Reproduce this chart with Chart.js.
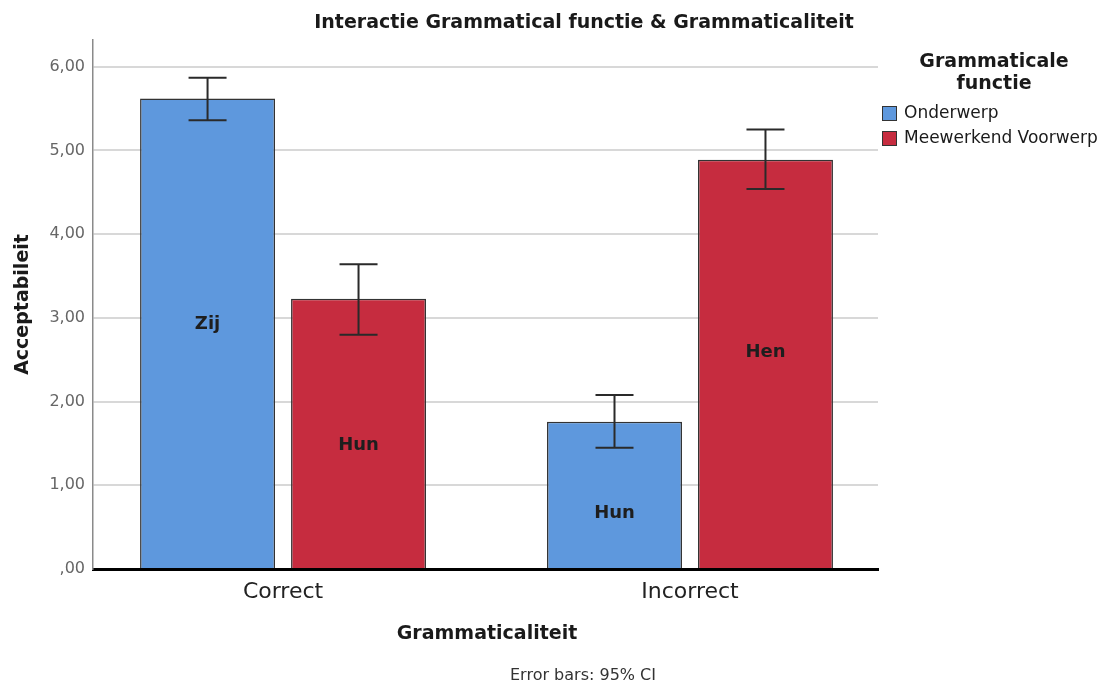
<!DOCTYPE html>
<html>
<head>
<meta charset="utf-8">
<script src="https://cdn.jsdelivr.net/npm/chart.js@4"></script>
<style>
    body { margin: 0; background: #fff; }
    #wrap { width: 1108px; height: 686px; position: relative; }
</style>
</head>
<body>
<div id="wrap"><canvas id="chart"></canvas></div>
<script>

const categories = ["Correct", "Incorrect"];
const seriesNames = ["Onderwerp", "Meewerkend Voorwerp"];

const onderwerp = [5.62, 1.76];
const onderwerpLow = [5.36, 1.45];
const onderwerpHigh = [5.87, 2.08];

const meewerkend = [3.23, 4.89];
const meewerkendLow = [2.80, 4.54];
const meewerkendHigh = [3.64, 5.25];

// words printed inside the bars, and the value height where they sit
const onderwerpWords = ["Zij", "Hun"];
const onderwerpWordAt = [2.92, 0.67];
const meewerkendWords = ["Hun", "Hen"];
const meewerkendWordAt = [1.48, 2.59];

const chartTitle = "Interactie Grammatical functie & Grammaticaliteit";
const legendTitle = ["Grammaticale", "functie"];
const yTitle = "Acceptabileit";
const xTitle = "Grammaticaliteit";
const footnote = "Error bars: 95% CI";

const FONT = "'DejaVu Sans', sans-serif";
const BLUE = "#5e98dd";
const RED = "#c62c3f";


function formatTick(v) {
    const s = v.toFixed(2).replace(".", ",");
    return s.startsWith("0,") ? s.slice(1) : s;
}


const extras = {

    id: "extras",

    afterDatasetsDraw(chart) {

        const ctx = chart.ctx;
        const y = chart.scales.y;
        const lows = [onderwerpLow, meewerkendLow];
        const highs = [onderwerpHigh, meewerkendHigh];
        const words = [onderwerpWords, meewerkendWords];
        const wordAt = [onderwerpWordAt, meewerkendWordAt];

        ctx.save();

        chart.data.datasets.forEach((ds, d) => {

            const meta = chart.getDatasetMeta(d);

            meta.data.forEach((bar, i) => {

                // label inside the bar
                ctx.fillStyle = "#1e1e1e";
                ctx.font = "bold 18px " + FONT;
                ctx.textAlign = "center";
                ctx.textBaseline = "middle";
                ctx.fillText(words[d][i], bar.x, y.getPixelForValue(wordAt[d][i]));

                // error bar
                const top = y.getPixelForValue(highs[d][i]);
                const bottom = y.getPixelForValue(lows[d][i]);
                ctx.strokeStyle = "#2a2a2a";
                ctx.lineWidth = 2;
                ctx.beginPath();
                ctx.moveTo(bar.x, top);
                ctx.lineTo(bar.x, bottom);
                ctx.moveTo(bar.x - 19, top);
                ctx.lineTo(bar.x + 19, top);
                ctx.moveTo(bar.x - 19, bottom);
                ctx.lineTo(bar.x + 19, bottom);
                ctx.stroke();

            });

        });

        // main title
        ctx.fillStyle = "#1a1a1a";
        ctx.textAlign = "center";
        ctx.textBaseline = "middle";
        ctx.font = "bold 19px " + FONT;
        ctx.fillText(chartTitle, 584, 23);

        // x axis title and footnote
        ctx.font = "bold 19px " + FONT;
        ctx.fillText(xTitle, 487, 634);
        ctx.fillStyle = "#333";
        ctx.font = "16px " + FONT;
        ctx.fillText(footnote, 583, 676);

        // legend
        ctx.fillStyle = "#1a1a1a";
        ctx.font = "bold 19px " + FONT;
        ctx.fillText(legendTitle[0], 994, 62);
        ctx.fillText(legendTitle[1], 994, 84);

        const colors = [BLUE, RED];
        ctx.textAlign = "left";
        ctx.font = "17px " + FONT;

        seriesNames.forEach((name, i) => {
            const top = 106 + i * 25;
            ctx.fillStyle = colors[i];
            ctx.fillRect(882, top, 15, 15);
            ctx.strokeStyle = "#333";
            ctx.lineWidth = 1;
            ctx.strokeRect(882.5, top + 0.5, 14, 14);
            ctx.fillStyle = "#1a1a1a";
            ctx.fillText(name, 904, top + 8);
        });

        ctx.restore();
    }
};


const ctx = document.getElementById("chart");

new Chart(ctx, {

    type: "bar",

    data: {
        labels: categories,
        datasets: [
            {
                label: seriesNames[0],
                data: onderwerp,
                backgroundColor: BLUE,
                borderColor: "#333",
                borderWidth: 1.5
            },
            {
                label: seriesNames[1],
                data: meewerkend,
                backgroundColor: RED,
                borderColor: "#333",
                borderWidth: 1.5
            }
        ]
    },

    options: {

        responsive: true,
        maintainAspectRatio: false,
        animation: false,

        layout: {
            padding: { top: 40, right: 230, left: 0, bottom: 0 }
        },

        datasets: {
            bar: {
                categoryPercentage: 0.742,
                barPercentage: 0.894
            }
        },

        plugins: {
            legend: { display: false },
            title: { display: false },
            tooltip: { enabled: false }
        },

        scales: {

            x: {
                grid: { display: false },
                border: { color: "#000", width: 3 },
                ticks: {
                    color: "#222",
                    font: { family: FONT, size: 22 },
                    padding: 2
                },
                // SPSS leaves a little less room right of the last group
                afterBuildTicks: axis => {
                    axis._startValue = -0.467;
                    axis._valueRange = 1.929;
                },
                afterFit: scale => { scale.height = 117; }
            },

            y: {
                min: 0,
                max: 6.32,
                afterBuildTicks: axis => {
                    axis.ticks = axis.ticks.filter(t => Number.isInteger(t.value));
                },
                grid: {
                    color: "#d8d8d8",
                    lineWidth: 2,
                    drawTicks: false
                },
                border: { color: "#8a8a8a", width: 1.5 },
                ticks: {
                    stepSize: 1,
                    color: "#666",
                    padding: 8,
                    font: { family: FONT, size: 16 },
                    callback: v => formatTick(v)
                },
                title: {
                    display: true,
                    text: yTitle,
                    color: "#1a1a1a",
                    font: { family: FONT, size: 19, weight: "bold" },
                    padding: { top: 12, bottom: 0 }
                },
                afterFit: scale => { scale.width = 93; }
            }

        }

    },

    plugins: [extras]

});

</script>
</body>
</html>
